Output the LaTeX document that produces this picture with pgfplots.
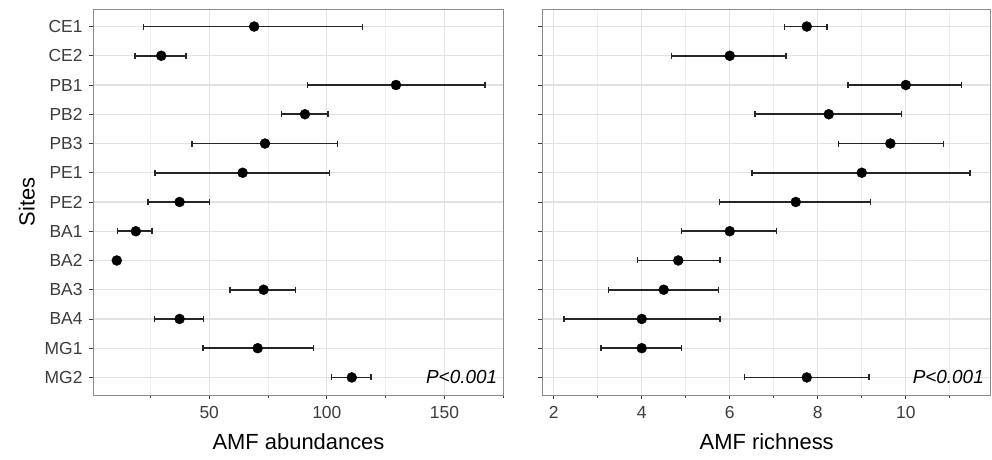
\documentclass[border=0pt]{standalone}
\usepackage{pgfplots}
\pgfplotsset{compat=1.18}
\usepackage{pgfplotstable}
\usepackage{fontspec}
\setmainfont{Liberation Sans}
\definecolor{gridmaj}{RGB}{226,226,226}
\definecolor{gridmin}{RGB}{238,238,238}
\definecolor{bord}{RGB}{140,140,140}
\definecolor{ticklab}{RGB}{60,60,60}

% y: CE1=13 ... MG2=1 ; m = mean, lo/hi = error bar ends
\pgfplotstableread{
y m lo hi
13 69.1 22.1 115.2
12 29.6 18.5 40.2
11 129.4 91.7 167.2
10 90.7 80.8 100.5
9 73.7 42.6 104.6
8 64.2 26.9 101.1
7 37.4 23.9 50.1
6 18.8 11.1 25.7
5 10.7 9.9 11.5
4 73.1 58.9 86.7
3 37.4 26.7 47.6
2 70.6 47.3 94.3
1 110.6 102.0 118.8
}\abund

\pgfplotstableread{
y m lo hi
13 7.75 7.25 8.21
12 6.0 4.68 7.28
11 10.0 8.69 11.27
10 8.25 6.57 9.9
9 9.65 8.47 10.86
8 9.0 6.51 11.46
7 7.5 5.77 9.2
6 6.0 4.91 7.06
5 4.83 3.9 5.78
4 4.5 3.25 5.75
3 4.0 2.23 5.78
2 4.0 3.07 4.91
1 7.75 6.34 9.16
}\rich

\pgfplotsset{
  common/.style={
    scale only axis,
    height=386bp,
    ymin=0.4, ymax=13.6,
    ytick={1,...,13},
    axis line style={draw=bord, line width=0.9pt},
    grid=both,
    major grid style={draw=gridmaj, line width=1.1pt},
    minor grid style={draw=gridmin, line width=0.7pt},
    minor y tick num=0,
    tick align=outside,
    tick pos=left,
    major tick length=4.5bp,
    every tick/.style={draw=ticklab, line width=0.8pt},
    /pgf/number format/assume math mode=true,
    tick label style={font=\fontsize{17.5}{18}\selectfont, text=ticklab},
    xticklabel style={yshift=-3bp},
    yticklabel style={xshift=-3bp},
    label style={font=\fontsize{22}{24}\selectfont},
    xlabel style={yshift=-8bp},
    clip=false,
  },
  ebar/.style={
    only marks, mark=*, mark size=5bp, mark options={fill=black, draw=black},
    error bars/.cd, x dir=both, x explicit,
    error bar style={line width=1.6bp, black!85},
    error mark=|, error mark options={line width=1.4bp, mark size=3bp, black!85},
  },
}

\begin{document}
\begin{tikzpicture}[x=1bp,y=1bp]
\useasboundingbox (0,0) rectangle (992,460);

\begin{axis}[common,
  at={(93.5bp,65bp)}, anchor=south west,
  width=410bp,
  xmin=0.8, xmax=175.1,
  xtick={50,100,150},
  minor xtick={25,75,125,175},
  yticklabels={MG2,MG1,BA4,BA3,BA2,BA1,PE2,PE1,PB3,PB2,PB1,CE2,CE1},
  xlabel={AMF abundances},
  ylabel={Sites},
  ylabel style={yshift=3bp},
]
\addplot+[ebar] table[x=m, y=y,
  x error plus expr=\thisrow{hi}-\thisrow{m},
  x error minus expr=\thisrow{m}-\thisrow{lo}] {\abund};
\node[anchor=south east, font=\fontsize{19}{20}\selectfont\itshape, inner sep=0pt]
  at (rel axis cs:0.985,0.028) {P<0.001};
\end{axis}

\begin{axis}[common,
  at={(542.7bp,65bp)}, anchor=south west,
  width=448bp,
  xmin=1.75, xmax=11.93,
  xtick={2,4,6,8,10},
  minor xtick={3,5,7,9,11},
  yticklabels={},
  xlabel={AMF richness},
]
\addplot+[ebar] table[x=m, y=y,
  x error plus expr=\thisrow{hi}-\thisrow{m},
  x error minus expr=\thisrow{m}-\thisrow{lo}] {\rich};
\node[anchor=south east, font=\fontsize{19}{20}\selectfont\itshape, inner sep=0pt]
  at (rel axis cs:0.985,0.028) {P<0.001};
\end{axis}
\end{tikzpicture}
\end{document}
